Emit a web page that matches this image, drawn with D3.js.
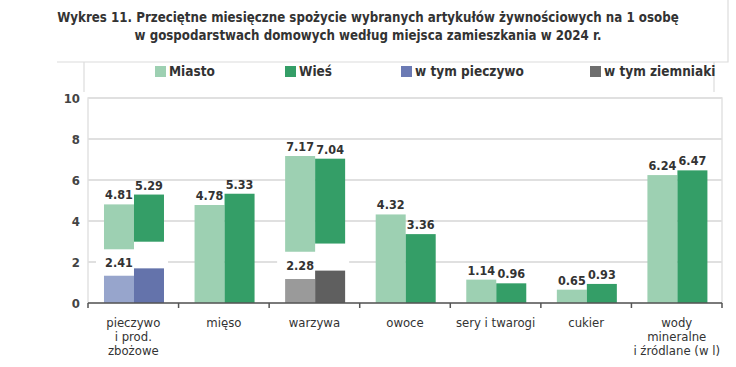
<!DOCTYPE html>
<html>
<head>
<meta charset="utf-8">
<script src="https://cdn.jsdelivr.net/npm/d3@7"></script>
<style>
  html, body { margin: 0; padding: 0; background: #fff; }
  svg { display: block; font-family: "Liberation Sans Narrow", "DejaVu Sans Condensed", "Roboto", sans-serif; }
</style>
</head>
<body>
<svg id="chart" width="736" height="367"></svg>
<script>
// categories and values
const categories = ["pieczywo\ni prod.\nzbożowe", "mięso", "warzywa", "owoce",
  "sery i twarogi", "cukier", "wody\nmineralne\ni źródlane (w l)"];
const miasto = [4.81, 4.78, 7.17, 4.32, 1.14, 0.65, 6.24];
const wies   = [5.29, 5.33, 7.04, 3.36, 0.96, 0.93, 6.47];
// split bars: lower "w tym" part and where the green part restarts
const subMiasto  = [1.33, 0, 1.17, 0, 0, 0, 0];
const subWies    = [1.69, 0, 1.58, 0, 0, 0, 0];
const baseMiasto = [2.62, 0, 2.50, 0, 0, 0, 0];
const baseWies   = [2.99, 0, 2.90, 0, 0, 0, 0];
const subLabels  = [2.41, null, 2.28, null, null, null, null];
const subKind    = ["pieczywo", null, "ziemniaki", null, null, null, null];
const yTicks = [0, 2, 4, 6, 8, 10];
const legendItems = ["Miasto", "Wieś", "w tym pieczywo", "w tym ziemniaki"];

const colors = {
  Miasto: "#9dd0b2", "Wieś": "#349e67",
  pieczywo: ["#97a5cc", "#6473ab"], ziemniaki: ["#9a9a9a", "#5f5f5f"],
  legend: ["#9dd0b2", "#349e67", "#6b7ab4", "#6e6e6e"]
};
const txt = "#333";

const svg = d3.select("#chart");
const plotL = 88, plotR = 722, plotT = 98, plotB = 303;

const x = d3.scaleBand().domain(d3.range(categories.length)).range([plotL, plotR]).padding(0);
const xi = d3.scaleBand().domain(["Miasto", "Wieś"]).range([0, 60]);
const y = d3.scaleLinear().domain([0, 10]).range([plotB, plotT]);
const gx = (i) => x(i) + (x.bandwidth() - 60) / 2 + 0.7;

// frame lines (title box / legend box)
const frame = svg.append("g").attr("stroke", "#dcdcdc").attr("stroke-width", 1.2).attr("fill", "none");
frame.append("path").attr("d", "M57,62H728V0");
frame.append("path").attr("d", "M84,62V92");
frame.append("path").attr("d", "M714,62V92");

// title
const title = svg.append("text").attr("x", 368).attr("text-anchor", "middle")
  .attr("font-weight", "bold").attr("font-size", 13.2).attr("fill", txt);
title.append("tspan").attr("x", 368).attr("y", 22)
  .text("Wykres 11. Przeciętne miesięczne spożycie wybranych artykułów żywnościowych na 1 osobę");
title.append("tspan").attr("x", 368).attr("y", 40)
  .text("w gospodarstwach domowych według miejsca zamieszkania w 2024 r.");

// legend
const legendX = [155, 285, 401, 590];
const lg = svg.append("g");
legendItems.forEach((d, i) => {
  lg.append("rect").attr("x", legendX[i]).attr("y", 66).attr("width", 11).attr("height", 11)
    .attr("fill", colors.legend[i]);
  lg.append("text").attr("x", legendX[i] + 14).attr("y", 76)
    .attr("font-size", 13.5).attr("font-weight", "bold").attr("fill", txt).text(d);
});

// plot border + gridlines
svg.append("rect").attr("x", plotL).attr("y", plotT).attr("width", plotR - plotL).attr("height", plotB - plotT)
  .attr("fill", "none").attr("stroke", "#e2e2e2").attr("stroke-width", 1.5);
svg.append("g").selectAll("line").data(yTicks.filter((t) => t > 0)).join("line")
  .attr("x1", plotL).attr("x2", plotR).attr("y1", (d) => y(d)).attr("y2", (d) => y(d))
  .attr("stroke", "#e0e0e0").attr("stroke-width", 2);

// y axis labels
const yAxis = svg.append("g").attr("transform", `translate(${plotL - 8},0)`)
  .call(d3.axisLeft(y).tickValues(yTicks).tickSize(0).tickPadding(0));
yAxis.select(".domain").remove();
yAxis.attr("font-family", null);
yAxis.selectAll("text").attr("font-size", 13).attr("font-weight", "bold").attr("fill", "#444");

// white label boxes for the split bars
const bars = svg.append("g");
categories.forEach((c, i) => {
  if (subLabels[i] == null) return;
  const topSub = y(Math.max(subMiasto[i], subWies[i]));
  bars.append("rect").attr("x", gx(i) - 8).attr("width", 72)
    .attr("y", y(2) - 6).attr("height", topSub - y(2) + 6).attr("fill", "#fff");
});

// green bars
const series = [
  { key: "Miasto", vals: miasto, base: baseMiasto, sub: subMiasto },
  { key: "Wieś", vals: wies, base: baseWies, sub: subWies }
];
series.forEach((s, si) => {
  categories.forEach((c, i) => {
    const bx = gx(i) + xi(s.key);
    bars.append("rect").attr("x", bx).attr("width", xi.bandwidth())
      .attr("y", y(s.vals[i])).attr("height", y(s.base[i]) - y(s.vals[i]))
      .attr("fill", colors[s.key]);
    if (s.sub[i] > 0) {
      bars.append("rect").attr("x", bx).attr("width", xi.bandwidth())
        .attr("y", y(s.sub[i])).attr("height", y(0) - y(s.sub[i]))
        .attr("fill", colors[subKind[i]][si]);
    }
    bars.append("text").attr("x", bx + xi.bandwidth() / 2).attr("y", y(s.vals[i]) - 5)
      .attr("text-anchor", "middle").attr("font-size", 12.5).attr("font-weight", "bold")
      .attr("fill", txt).text(s.vals[i].toFixed(2));
  });
});

// "w tym" labels
categories.forEach((c, i) => {
  if (subLabels[i] == null) return;
  bars.append("text").attr("x", gx(i) + xi("Miasto") + xi.bandwidth() / 2)
    .attr("y", y(Math.max(subMiasto[i], subWies[i])) - 1)
    .attr("text-anchor", "middle").attr("font-size", 12.5).attr("font-weight", "bold")
    .attr("fill", txt).text(subLabels[i].toFixed(2));
});

// x axis with category boundary ticks
svg.append("line").attr("x1", plotL).attr("x2", plotR).attr("y1", plotB).attr("y2", plotB)
  .attr("stroke", "#555").attr("stroke-width", 1.5);
svg.append("g").selectAll("line").data(d3.range(categories.length + 1)).join("line")
  .attr("x1", (d) => plotL + d * x.bandwidth()).attr("x2", (d) => plotL + d * x.bandwidth())
  .attr("y1", plotB).attr("y2", plotB + 5).attr("stroke", "#555").attr("stroke-width", 1.5);

const cat = svg.append("g");
categories.forEach((c, i) => {
  const t = cat.append("text").attr("text-anchor", "middle").attr("font-size", 13)
    .attr("fill", txt);
  c.split("\n").forEach((line, k) => {
    t.append("tspan").attr("x", x(i) + x.bandwidth() / 2).attr("y", 327 + k * 14).text(line);
  });
});
</script>
</body>
</html>
